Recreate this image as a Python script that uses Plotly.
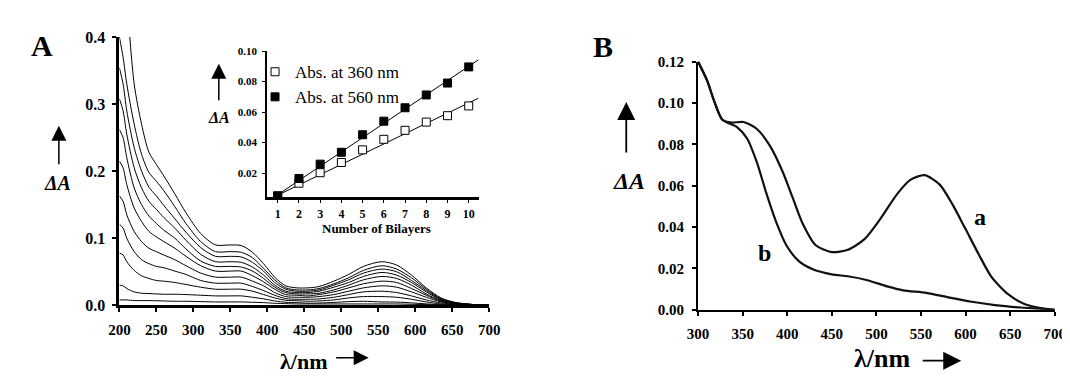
import plotly.graph_objects as go

W, H = 1070, 376

# ---------------- Panel A : spectra for 0..10 bilayers ----------------
wl_A = [200, 205, 210, 220, 230, 240, 250, 260, 275, 290, 310, 330, 350, 365, 380, 395,
        410, 425, 440, 455, 470, 490, 510, 530, 555, 575, 595, 615, 635, 655, 680, 700]

spec_k10 = [.62, .54, .46, .33, .27, .228, .21, .193, .166, .138, .107, .090, .090, .089, .079, .062,
            .042, .029, .026, .026, .028, .036, .046, .058, .065, .060, .045, .026, .011, .004, .001, 0]
spec_k9 = [.40, .37, .33, .27, .225, .198, .185, .171, .147, .122, .095, .080, .080, .079, .071, .055,
           .038, .026, .023, .023, .025, .032, .041, .052, .059, .054, .041, .024, .010, .004, .001, 0]
spec_k8 = [.354, .33, .29, .235, .20, .176, .163, .149, .129, .109, .086, .073, .073, .072, .064, .051,
           .034, .024, .021, .021, .023, .030, .038, .048, .054, .050, .037, .022, .009, .003, .001, 0]
spec_k7 = [.308, .29, .255, .205, .175, .155, .143, .131, .115, .097, .076, .065, .065, .064, .057, .045,
           .030, .021, .019, .019, .021, .027, .034, .043, .049, .045, .034, .020, .008, .003, .001, 0]
spec_k6 = [.262, .25, .22, .175, .15, .133, .122, .112, .100, .084, .066, .058, .058, .057, .051, .040,
           .027, .019, .017, .017, .018, .023, .030, .038, .043, .040, .030, .017, .007, .003, .001, 0]
spec_k5 = [.215, .205, .18, .145, .125, .11, .102, .095, .085, .073, .059, .051, .051, .051, .044, .035,
           .024, .016, .015, .014, .016, .020, .026, .032, .036, .034, .025, .015, .006, .002, .001, 0]
spec_k4 = [.163, .155, .135, .11, .095, .085, .08, .075, .068, .059, .048, .042, .042, .042, .036, .029,
           .019, .013, .012, .012, .013, .016, .021, .026, .029, .027, .020, .012, .005, .002, .0005, 0]
spec_k3 = [.121, .115, .10, .08, .068, .062, .058, .056, .051, .046, .037, .033, .033, .033, .028, .022,
           .015, .010, .009, .009, .0095, .012, .016, .020, .021, .019, .014, .008, .0035, .0013, .0003, 0]
spec_k2 = [.078, .075, .065, .052, .044, .040, .037, .036, .034, .031, .027, .024, .024, .024, .021, .016,
           .011, .0075, .0068, .006, .0065, .008, .011, .013, .013, .012, .009, .005, .002, .001, 0, 0]
spec_k1 = [.030, .029, .025, .020, .018, .0175, .017, .0165, .0165, .016, .015, .014, .014, .014, .012, .0096,
           .0065, .0045, .004, .0031, .0034, .0043, .0055, .006, .005, .0048, .0036, .0021, .0009, .0003, 0, 0]
spec_k0 = [.008, .008, .008, .007, .007, .007, .0068, .0065, .006, .006, .0055, .005, .005, .005, .0045, .004,
           .003, .0025, .002, .002, .002, .002, .002, .002, .002, .002, .0015, .001, .0005, 0, 0, 0]

spectra_A = [spec_k0, spec_k1, spec_k2, spec_k3, spec_k4, spec_k5,
             spec_k6, spec_k7, spec_k8, spec_k9, spec_k10]

# ---------------- Inset ----------------
bilayers = [1, 2, 3, 4, 5, 6, 7, 8, 9, 10]
abs360 = [0.005, 0.0133, 0.0202, 0.0269, 0.0352, 0.0421, 0.048, 0.0534, 0.0576, 0.064]
abs560 = [0.005, 0.0164, 0.0258, 0.0336, 0.0451, 0.054, 0.0628, 0.0712, 0.079, 0.0896]
fit_x = [0.9, 10.45]
fit360 = [0.0048, 0.069]
fit560 = [0.0048, 0.0942]

# ---------------- Panel B ----------------
wl_a = [300, 310, 318, 327, 337, 351, 366, 381, 395, 406, 417, 432, 450, 468, 487, 505,
        523, 538, 554, 571, 585, 600, 615, 629, 648, 666, 684, 700]
spec_a = [0.12, 0.111, 0.101, 0.092, 0.0905, 0.0908, 0.0874, 0.079, 0.0666, 0.0543, 0.042, 0.0312,
          0.0279, 0.029, 0.0343, 0.0443, 0.0558, 0.0628, 0.0651, 0.0605, 0.0512, 0.039, 0.0266,
          0.0159, 0.0074, 0.0028, 0.0008, 0.0]
wl_b = [300, 310, 318, 327, 344, 355, 366, 377, 388, 399, 413, 428, 450, 468, 490, 512, 530,
        556, 582, 607, 633, 662, 700]
spec_b = [0.12, 0.111, 0.101, 0.092, 0.0882, 0.0828, 0.0712, 0.0558, 0.042, 0.0312, 0.0235, 0.0197,
          0.0171, 0.0162, 0.0143, 0.0113, 0.0094, 0.0082, 0.0059, 0.0039, 0.0023, 0.0011, 0.0]

xticks_A = [200, 250, 300, 350, 400, 450, 500, 550, 600, 650, 700]
yticks_A = [0.0, 0.1, 0.2, 0.3, 0.4]
xticks_B = [300, 350, 400, 450, 500, 550, 600, 650, 700]
yticks_B = [0.00, 0.02, 0.04, 0.06, 0.08, 0.10, 0.12]
yticks_in = [0.02, 0.04, 0.06, 0.08, 0.10]

SERIF = "Liberation Serif"


def px(x):
    return x / W


def py(y):
    return (H - y) / H


fig = go.Figure()

for s in spectra_A:
    fig.add_trace(go.Scatter(x=wl_A, y=s, mode="lines", xaxis="x", yaxis="y",
                             line=dict(color="black", width=1, shape="spline", smoothing=0.8),
                             showlegend=False, hoverinfo="skip"))

fig.add_trace(go.Scatter(x=fit_x, y=fit560, mode="lines", xaxis="x2", yaxis="y2",
                         line=dict(color="black", width=1), showlegend=False))
fig.add_trace(go.Scatter(x=fit_x, y=fit360, mode="lines", xaxis="x2", yaxis="y2",
                         line=dict(color="black", width=1), showlegend=False))
fig.add_trace(go.Scatter(x=bilayers, y=abs360, mode="markers", xaxis="x2", yaxis="y2",
                         name="Abs. at 360 nm",
                         marker=dict(symbol="square", size=8, color="white",
                                     line=dict(color="black", width=1))))
fig.add_trace(go.Scatter(x=bilayers, y=abs560, mode="markers", xaxis="x2", yaxis="y2",
                         name="Abs. at 560 nm",
                         marker=dict(symbol="square", size=8, color="black",
                                     line=dict(color="black", width=1))))

fig.add_trace(go.Scatter(x=wl_a, y=spec_a, mode="lines", xaxis="x3", yaxis="y3",
                         line=dict(color="#111", width=2.2, shape="spline", smoothing=0.7),
                         showlegend=False))
fig.add_trace(go.Scatter(x=wl_b, y=spec_b, mode="lines", xaxis="x3", yaxis="y3",
                         line=dict(color="#111", width=2.2, shape="spline", smoothing=0.7),
                         showlegend=False))

ax_common = dict(showgrid=False, zeroline=False, showline=True, linecolor="black",
                 ticks="outside", tickcolor="black", fixedrange=True)

fig.update_layout(
    width=W, height=H, margin=dict(l=0, r=0, t=0, b=0),
    paper_bgcolor="white", plot_bgcolor="rgba(0,0,0,0)",
    font=dict(family=SERIF, color="black"),
    xaxis=dict(ax_common, domain=[px(102.5), px(480)], range=[200, 700],
               tickvals=xticks_A, linewidth=3, ticklen=4, tickwidth=1.5,
               tickfont=dict(family=SERIF, size=15, weight="bold"),
               ticklabelstandoff=5, anchor="y"),
    yaxis=dict(ax_common, domain=[py(303), py(22)], range=[0, 0.4],
               tickvals=yticks_A, tickformat=".1f", linewidth=3, ticklen=4, tickwidth=1.5,
               tickfont=dict(family=SERIF, size=16, weight="bold"),
               ticklabelstandoff=4, anchor="x"),
    xaxis2=dict(ax_common, domain=[px(253.3), px(470)], range=[0.5, 10.5],
                tickvals=bilayers, linewidth=3, ticklen=3, tickwidth=1,
                tickfont=dict(family=SERIF, size=12, weight="bold"),
                ticklabelstandoff=0, anchor="y2"),
    yaxis2=dict(ax_common, domain=[py(190), py(36.7)], range=[0.004, 0.10],
                tickvals=yticks_in, tickformat=".2f", linewidth=2, ticklen=3, tickwidth=1,
                tickfont=dict(family=SERIF, size=11, weight="bold"),
                ticklabelstandoff=3, anchor="x2"),
    xaxis3=dict(ax_common, domain=[px(693.3), px(1057.5)], range=[300, 700],
                tickvals=xticks_B, linewidth=2, ticklen=4, tickwidth=1.5,
                tickfont=dict(family=SERIF, size=15, weight="bold"),
                ticklabelstandoff=5, anchor="y3"),
    yaxis3=dict(ax_common, domain=[py(307.7), py(47.7)], range=[0, 0.12],
                tickvals=yticks_B, tickformat=".2f", linewidth=2, ticklen=4, tickwidth=1.5,
                tickfont=dict(family=SERIF, size=15, weight="bold"),
                ticklabelstandoff=5, anchor="x3"),
    legend=dict(x=px(241), y=py(40), xanchor="left", yanchor="top",
                bgcolor="rgba(0,0,0,0)", font=dict(family=SERIF, size=17),
                tracegroupgap=0, itemwidth=30),
    showlegend=True,
)


def label(text, x, y, size, xref="paper", yref="paper"):
    return dict(text=text, x=x, y=y, xref=xref, yref=yref, showarrow=False,
                font=dict(family=SERIF, size=size, color="black"),
                xanchor="center", yanchor="middle")


def arrow(xh, yh, ax, ay, width, size):
    return dict(text="", x=px(xh), y=py(yh), xref="paper", yref="paper",
                ax=ax, ay=ay, axref="pixel", ayref="pixel", showarrow=True,
                arrowhead=2, arrowsize=size, arrowwidth=width, arrowcolor="black")


annotations = [
    label("<b>A</b>", px(23), py(31), 30),
    label("<b>B</b>", px(596), py(32), 30),
    label("<b><i>ΔA</i></b>", px(39), py(175), 20),
    label("<b><i>ΔA</i></b>", px(204), py(106), 16),
    label("<b><i>ΔA</i></b>", px(623), py(173), 24),
    label("<b>λ/nm</b>", px(290), py(362), 22),
    label("<b>λ/nm</b>", px(881), py(359), 26),
    label("<b>Number of Bilayers</b>", px(365), py(223), 13),
    label("<b>a</b>", 616, 0.045, 24, xref="x3", yref="y3"),
    label("<b>b</b>", 375, 0.0275, 24, xref="x3", yref="y3"),
    arrow(40.7, 115, 0, 40, 1.5, 2.0),
    arrow(204, 50, 0, 38, 1.5, 2.0),
    arrow(620, 90, 0, 52, 1.8, 2.0),
    arrow(357, 358, -34, 0, 1.5, 2.0),
    arrow(962, 361, -40, 0, 1.8, 2.0),
]
fig.update_layout(annotations=annotations)

fig.write_html("out.html")
